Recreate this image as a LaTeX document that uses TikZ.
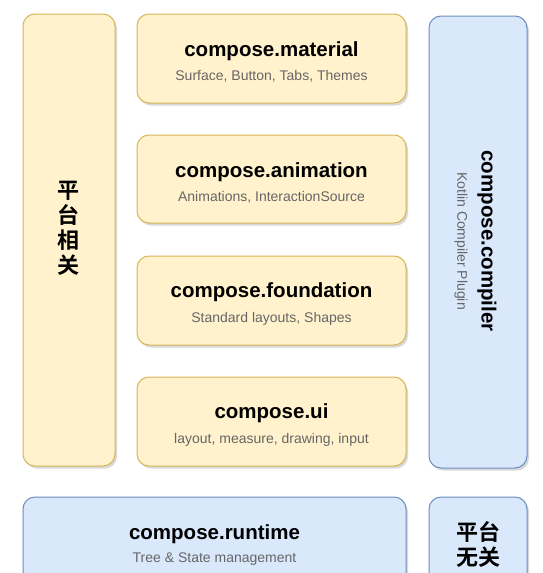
\documentclass[tikz,border=0pt]{standalone}
\usepackage{fontspec}
\setmainfont{Liberation Sans}
\newfontfamily\cjk{Noto Sans CJK SC}[BoldFont={* Bold}]
\usetikzlibrary{shadows}
\definecolor{yfill}{HTML}{FFF2CC}
\definecolor{ydraw}{HTML}{D6B656}
\definecolor{bfill}{HTML}{DAE8FC}
\definecolor{bdraw}{HTML}{6C8EBF}
\definecolor{subgrey}{HTML}{666666}
\tikzset{
  base/.style={rounded corners=12pt, line width=1pt, inner sep=0pt, align=center,
    drop shadow={shadow xshift=2pt, shadow yshift=-2.5pt, opacity=0.25, fill=black!60}},
  ybox/.style={base, fill=yfill, draw=ydraw},
  bbox/.style={base, fill=bfill, draw=bdraw},
  ttl/.style={font=\fontsize{20.5}{24}\selectfont\bfseries, inner sep=0pt},
  subt/.style={font=\fontsize{14}{16}\selectfont, text=subgrey, inner sep=0pt},
  cn/.style={font=\cjk\bfseries\fontsize{22}{25}\selectfont, align=center, inner sep=0pt},
}
\begin{document}
\begin{tikzpicture}[x=1pt,y=-1pt]
\useasboundingbox (0,0) rectangle (543,573);
% left platform box
\node[ybox, minimum width=92pt, minimum height=452pt] (plat) at (69,240) {};
\node[cn] (platt) at (68,228) {平\\台\\相\\关};
% stacked modules
\node[ybox, minimum width=269pt, minimum height=89pt] (mat) at (271.5,58.5) {};
\node[ttl] (matt) at (271.5,51) {compose.material};
\node[subt] (mats) at (271.5,76) {Surface, Button, Tabs, Themes};
\node[ybox, minimum width=269pt, minimum height=88pt] (ani) at (271.5,179) {};
\node[ttl] (anit) at (271.5,172) {compose.animation};
\node[subt] (anis) at (271.5,197) {Animations, InteractionSource};
\node[ybox, minimum width=269pt, minimum height=89pt] (fnd) at (271.5,300.5) {};
\node[ttl] (fndt) at (271.5,292.5) {compose.foundation};
\node[subt] (fnds) at (271.5,318.5) {Standard layouts, Shapes};
\node[ybox, minimum width=269pt, minimum height=89pt] (ui) at (271.5,421.5) {};
\node[ttl] (uit) at (271.5,413.5) {compose.ui};
\node[subt] (uis) at (271.5,439.5) {layout, measure, drawing, input};
% compiler
\node[bbox, minimum width=98pt, minimum height=452pt] (comp) at (478,242) {};
\node[ttl, rotate=-90] (compt) at (487,241) {compose.compiler};
\node[subt, rotate=-90] (comps) at (461,241) {Kotlin Compiler Plugin};
% runtime
\node[bbox, minimum width=383pt, minimum height=110pt] (rt) at (214.5,552) {};
\node[ttl] (rtt) at (214.5,534) {compose.runtime};
\node[subt] (rts) at (214.5,559) {Tree \& State management};
% platform independent
\node[bbox, minimum width=98pt, minimum height=110pt] (ind) at (478,552) {};
\node[cn] (indt) at (478,544) {平台\\无关};
\end{tikzpicture}
\end{document}
